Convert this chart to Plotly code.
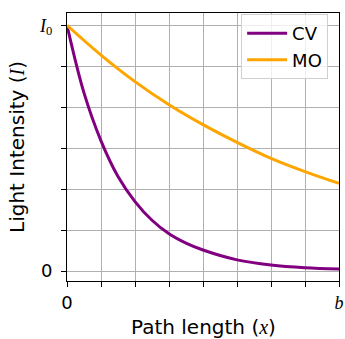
import plotly.graph_objects as go

# Data (x as fraction of path length b, I as fraction of I0)
cv_x = [0.0, 0.0625, 0.125, 0.1875, 0.25, 0.3125, 0.375, 0.4375, 0.5, 0.625, 0.75, 0.875, 1.0]
cv_vals = [1.0, 0.725, 0.53, 0.385, 0.283, 0.207, 0.152, 0.114, 0.086, 0.046, 0.025, 0.014, 0.009]
mo_x = [0.0, 0.125, 0.25, 0.375, 0.5, 0.625, 0.75, 0.875, 1.0]
mo_vals = [1.0, 0.879, 0.771, 0.677, 0.596, 0.524, 0.459, 0.405, 0.357]

x_tickvals = [0, 1.0]
x_ticktext = ["0", "<span style='font-family:Liberation Serif'><i>b</i></span>"]
x_minor_vals = [0.125, 0.25, 0.375, 0.5, 0.625, 0.75, 0.875]
y_tickvals = [0, 1.0]
y_ticktext = ["0", "<span style='font-family:Liberation Serif'><i>I</i><sub>0</sub></span>"]
y_minor_vals = [1/6, 2/6, 3/6, 4/6, 5/6]
x_title = "Path length (<span style='font-family:Liberation Serif'><i>x</i></span>)"
y_title = "Light Intensity (<span style='font-family:Liberation Serif'><i>I</i></span>)"

fig = go.Figure()
fig.add_trace(go.Scatter(x=cv_x, y=cv_vals, mode="lines", name="CV",
                         line=dict(color="#800080", width=3, shape="spline", smoothing=1.0)))
fig.add_trace(go.Scatter(x=mo_x, y=mo_vals, mode="lines", name="MO",
                         line=dict(color="#FFA500", width=3, shape="spline", smoothing=1.0)))

axis_common = dict(showline=True, linecolor="black", linewidth=1, mirror=True,
                   ticks="outside", ticklen=5, tickcolor="black", tickwidth=1,
                   showgrid=True, gridcolor="#b0b0b0", gridwidth=1, zeroline=False,
                   automargin=False, ticklabeloverflow="allow",
                   tickfont=dict(family="DejaVu Sans", size=18, color="black"))

fig.update_layout(
    width=345, height=339,
    margin=dict(l=67, r=6, t=13, b=58),
    paper_bgcolor="white", plot_bgcolor="white",
    font=dict(family="DejaVu Sans", size=18, color="black"),
    xaxis=dict(range=[0, 1], tickmode="array", tickvals=x_tickvals, ticktext=x_ticktext,
               ticklabelstandoff=0,
               minor=dict(tickmode="array", tickvals=x_minor_vals, ticks="outside", ticklen=5,
                          tickwidth=1, tickcolor="black", showgrid=True,
                          gridcolor="#b0b0b0", gridwidth=1),
               **axis_common),
    yaxis=dict(range=[-0.04, 1.05], tickmode="array", tickvals=y_tickvals, ticktext=y_ticktext,
               ticklabelstandoff=5,
               minor=dict(tickmode="array", tickvals=y_minor_vals, ticks="outside", ticklen=5,
                          tickwidth=1, tickcolor="black", showgrid=True,
                          gridcolor="#b0b0b0", gridwidth=1),
               **axis_common),
    legend=dict(x=0.96, y=0.996, xanchor="right", yanchor="top",
                bgcolor="rgba(255,255,255,0.8)", bordercolor="#d0d0d0", borderwidth=1,
                font=dict(size=18), itemwidth=40),
    showlegend=True,
)
fig.add_annotation(text=x_title, xref="paper", yref="paper", x=0.5, y=-0.17,
                   xanchor="center", yanchor="middle", showarrow=False,
                   font=dict(family="DejaVu Sans", size=20, color="black"))
fig.add_annotation(text=y_title, xref="paper", yref="paper", x=-0.184, y=0.5,
                   xanchor="center", yanchor="middle", showarrow=False, textangle=-90,
                   font=dict(family="DejaVu Sans", size=20, color="black"))

fig.write_html("out.html", config={"displayModeBar": False},
               post_script="document.body.style.margin='0';")
